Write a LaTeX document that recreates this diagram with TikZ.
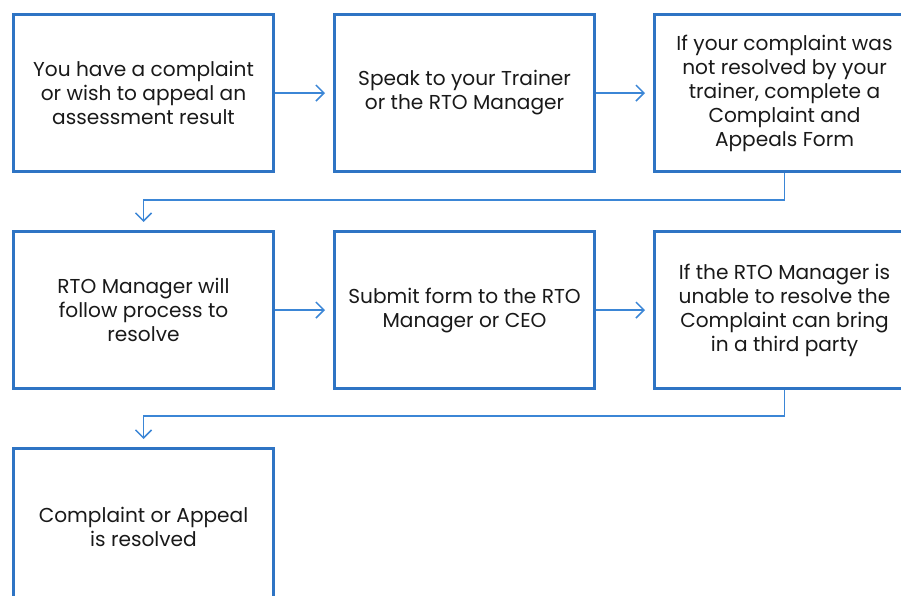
\documentclass[tikz,border=0pt]{standalone}
\usepackage{fontspec}
\setmainfont{Poppins}
\usetikzlibrary{arrows.meta}
\definecolor{boxblue}{HTML}{2E74C4}
\definecolor{arrblue}{HTML}{3B86D6}
\begin{document}
\begin{tikzpicture}[x=0.75pt,y=-0.75pt,
  stepbox/.style={draw=boxblue,line width=2.3pt,minimum width=260*0.75pt,minimum height=157*0.75pt,
    align=center,inner sep=0pt,font=\fontsize{15.1}{18}\selectfont,anchor=north west,text=black!90},
  conn/.style={draw=arrblue,line width=1.1pt,-{Straight Barb[length=6pt,width=12pt,line width=1.1pt]}}]
\useasboundingbox (0,0) rectangle (901,596);
\clip (0,0) rectangle (901,596);
\node[stepbox] (a) at (12,13) {You have a complaint\\or wish to appeal an\\assessment result};
\node[stepbox] (b) at (333,13) {Speak to your Trainer\\or the RTO Manager};
\node[stepbox] (c) at (653,13) {If your complaint was\\not resolved by your\\trainer, complete a\\Complaint and\\Appeals Form};
\node[stepbox] (d) at (12,230) {RTO Manager will\\follow process to\\resolve};
\node[stepbox] (e) at (333,230) {Submit form to the RTO\\Manager or CEO};
\node[stepbox] (f) at (653,230) {If the RTO Manager is\\unable to resolve the\\Complaint can bring\\in a third party};
\node[stepbox] (g) at (12,447) {Complaint or Appeal\\is resolved};
\coordinate (r1) at (0,200);
\coordinate (r2) at (0,416);
\draw[conn] (a.east) -- ([xshift=-6pt]b.west);
\draw[conn] (b.east) -- ([xshift=-6pt]c.west);
\draw[conn] (d.east) -- ([xshift=-6pt]e.west);
\draw[conn] (e.east) -- ([xshift=-6pt]f.west);
\draw[conn] (c.south) |- (r1 -| a.south) -- ([yshift=6pt]d.north);
\draw[conn] (f.south) |- (r2 -| d.south) -- ([yshift=6pt]g.north);
\end{tikzpicture}
\end{document}
